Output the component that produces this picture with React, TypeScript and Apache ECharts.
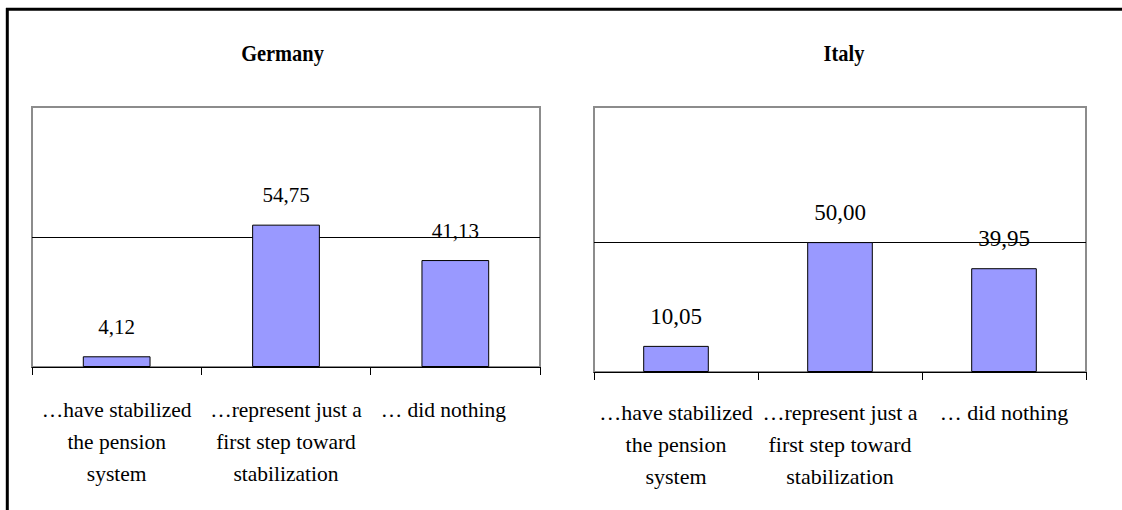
import React, { useEffect, useRef } from "react";
import * as echarts from "echarts";

const categories = [
  "…have stabilized\nthe pension\nsystem",
  "…represent just a\nfirst step toward\nstabilization",
  "… did nothing",
];
const germanyValues = [4.12, 54.75, 41.13];
const italyValues = [10.05, 50.0, 39.95];
const chartTitles = ["Germany", "Italy"];
const gridlineValue = 50;
const yMaxGermany = 100;
const yMaxItaly = 102;

const FONT = "Liberation Serif";

const fmt = (p: any) => Number(p.value).toFixed(2).replace(".", ",");

function xAxisFor(idx: number, margin: number, fontSize: number, shiftLast: number) {
  return {
    type: "category",
    gridIndex: idx,
    data: categories,
    axisLine: { lineStyle: { color: "#000", width: 1 } },
    axisTick: { show: true, length: 8, lineStyle: { color: "#000", width: 1 } },
    axisLabel: {
      interval: 0,
      color: "#000",
      fontFamily: FONT,
      fontSize,
      lineHeight: 32,
      margin,
      formatter: (v: string, i: number) =>
        shiftLast > 0 && i === categories.length - 1 ? `{s|${v}}` : v,
      rich: {
        s: {
          fontFamily: FONT,
          fontSize,
          lineHeight: 32,
          color: "#000",
          padding: [0, shiftLast, 0, 0],
        },
      },
    },
    splitLine: { show: false },
  };
}

function yAxisFor(idx: number, max: number) {
  return {
    type: "value",
    gridIndex: idx,
    min: 0,
    max,
    axisLine: { show: false },
    axisTick: { show: false },
    axisLabel: { show: false },
    splitLine: { show: false },
  };
}

function barSeries(idx: number, values: number[], labelSize: number, dist: number) {
  return {
    type: "bar",
    xAxisIndex: idx,
    yAxisIndex: idx,
    data: values,
    barWidth: "40%",
    itemStyle: { color: "#9999FF", borderColor: "#000", borderWidth: 1 },
    label: {
      show: true,
      position: "top",
      distance: dist,
      color: "#000",
      fontFamily: FONT,
      fontSize: labelSize,
      formatter: fmt,
    },
    markLine: {
      silent: true,
      z: 1,
      symbol: ["none", "none"],
      label: { show: false },
      lineStyle: { color: "#000", type: "solid", width: 1 },
      emphasis: { disabled: true },
      data: [{ yAxis: gridlineValue }],
    },
  };
}

export default function App() {
  const ref = useRef<HTMLDivElement>(null);
  useEffect(() => {
    document.body.style.margin = "0";
    if (!ref.current) return;
    const chart = echarts.init(ref.current, null, { renderer: "svg" });
    const gridBase = {
      show: true,
      borderColor: "#8c8c8c",
      borderWidth: 2,
      backgroundColor: "transparent",
      containLabel: false,
    };
    chart.setOption({
      animation: false,
      backgroundColor: "#fff",
      textStyle: { fontFamily: FONT },
      grid: [
        { ...gridBase, left: 32, top: 107, width: 508, height: 260 },
        { ...gridBase, left: 594, top: 107, width: 492, height: 265 },
      ],
      xAxis: [xAxisFor(0, 27, 21.5, 24), xAxisFor(1, 24, 22, 0)],
      yAxis: [yAxisFor(0, yMaxGermany), yAxisFor(1, yMaxItaly)],
      series: [
        barSeries(0, germanyValues, 21, 19),
        barSeries(1, italyValues, 23, 18),
      ],
      graphic: [
        {
          type: "line",
          shape: { x1: 6, y1: 9.3, x2: 1122, y2: 9.3 },
          style: { stroke: "#000", lineWidth: 3 },
        },
        {
          type: "line",
          shape: { x1: 7.3, y1: 8, x2: 7.3, y2: 510 },
          style: { stroke: "#000", lineWidth: 3 },
        },
        {
          type: "text",
          x: 282.5,
          y: 53,
          scaleX: 0.85,
          style: {
            text: chartTitles[0],
            fontFamily: FONT,
            fontWeight: "bold",
            fontSize: 24,
            fill: "#000",
            textAlign: "center",
            textVerticalAlign: "middle",
          },
        },
        {
          type: "text",
          x: 844,
          y: 53,
          scaleX: 0.85,
          style: {
            text: chartTitles[1],
            fontFamily: FONT,
            fontWeight: "bold",
            fontSize: 24,
            fill: "#000",
            textAlign: "center",
            textVerticalAlign: "middle",
          },
        },
      ],
    });
    return () => chart.dispose();
  }, []);
  return <div ref={ref} style={{ width: 1122, height: 510 }} />;
}
